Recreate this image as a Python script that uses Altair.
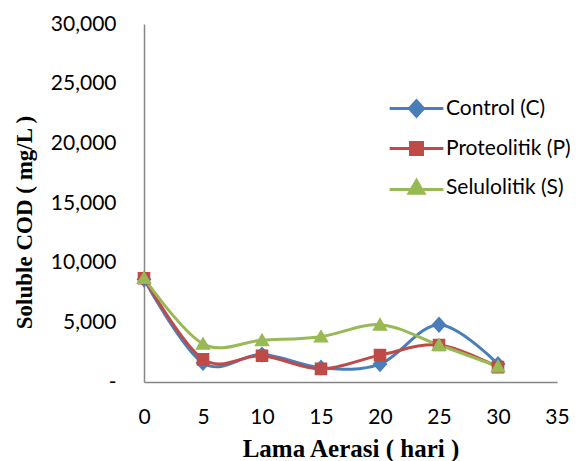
import altair as alt
import pandas as pd

days = [0, 5, 10, 15, 20, 25, 30]
series_names = ["Control (C)", "Proteolitik (P)", "Selulolitik (S)"]
control = [8600, 1600, 2300, 1200, 1500, 4800, 1500]
proteolitik = [8700, 1900, 2200, 1100, 2250, 3100, 1250]
selulolitik = [8700, 3200, 3500, 3800, 4800, 3100, 1300]
colors = ["#4A7EBB", "#BE4B48", "#98B954"]
x_ticks = [0, 5, 10, 15, 20, 25, 30, 35]
y_ticks = [0, 5000, 10000, 15000, 20000, 25000, 30000]

# marker shapes with a short line through them (line only shows in the legend)
shapes = [
    "M-3.8,0L-1,0M1,0L3.8,0M0,-1.1L1,0L0,1.1L-1,0Z",
    "M-3.8,0L-0.85,0M0.85,0L3.8,0M-0.85,-0.85L0.85,-0.85L0.85,0.85L-0.85,0.85Z",
    "M-3.8,0.3L-0.9,0.3M0.9,0.3L3.8,0.3M0,-1L1.05,0.8L-1.05,0.8Z",
]

rows = []
for name, vals in zip(series_names, [control, proteolitik, selulolitik]):
    for d, v in zip(days, vals):
        rows.append({"day": d, "cod": v, "series": name})
df = pd.DataFrame(rows)

x = alt.X("day:Q", scale=alt.Scale(domain=[0, 35], nice=False),
          axis=alt.Axis(values=x_ticks, title="Lama Aerasi ( hari )", grid=False,
                        ticks=False, labelPadding=24, titlePadding=9, labelFlush=False,
                        titleFontSize=25,
                        domainColor="#868686", domainWidth=1.5))
y = alt.Y("cod:Q", scale=alt.Scale(domain=[0, 30000], nice=False),
          axis=alt.Axis(values=y_ticks, title="Soluble COD ( mg/L )", grid=False,
                        ticks=False, labelPadding=28, titlePadding=14,
                        titleFontSize=23, titleY=198,
                        labelExpr="datum.value == 0 ? '-' : format(datum.value, ',')",
                        domainColor="#868686", domainWidth=1.5))

col_scale = alt.Scale(domain=series_names, range=colors)
shape_scale = alt.Scale(domain=series_names, range=shapes)
legend = alt.Legend(title=None, orient="none", legendX=242, legendY=74,
                    symbolStrokeWidth=3, symbolSize=200, rowPadding=13,
                    labelOffset=19, labelFontSize=21, labelFont="Lato",
                    labelLimit=400,
                    labelColor="#000000", symbolOffset=20)

lines = alt.Chart(df).mark_line(interpolate="cardinal", tension=0, strokeWidth=3).encode(
    x=x, y=y,
    stroke=alt.Stroke("series:N", scale=col_scale, legend=legend),
    detail="series:N",
)
points = alt.Chart(df).mark_point(filled=True, size=220, opacity=1, strokeWidth=0).encode(
    x=x, y=y,
    fill=alt.Fill("series:N", scale=col_scale, legend=legend),
    stroke=alt.Stroke("series:N", scale=col_scale, legend=legend),
    shape=alt.Shape("series:N", scale=shape_scale, legend=legend),
)

chart = alt.layer(lines, points).properties(
    width=413, height=358,
    autosize=alt.AutoSizeParams(type="none"),
    padding={"left": 136, "top": 16, "right": 15, "bottom": 79},
).configure_view(stroke=None).configure_axis(
    labelFont="Lato", labelFontSize=21, labelColor="#000000",
    titleFont="Liberation Serif", titleFontWeight="bold",
    titleColor="#000000",
)

chart.save("out.html", embed_options={"renderer": "svg", "actions": False})
